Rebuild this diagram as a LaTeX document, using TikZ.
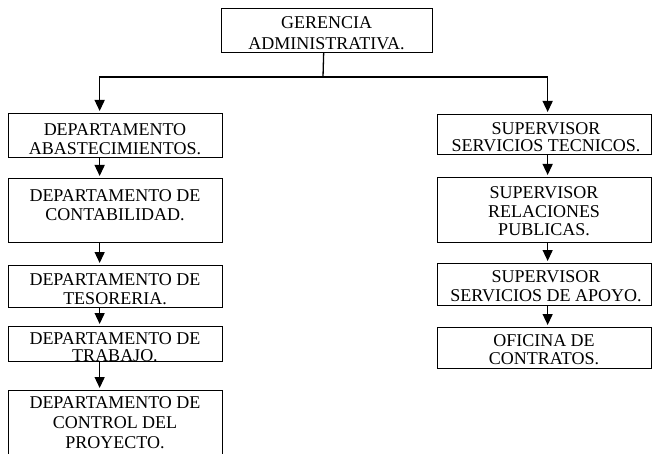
\documentclass[tikz,border=0pt]{standalone}
\usepackage{fontspec}
\setmainfont{Liberation Serif}
\usetikzlibrary{arrows.meta}

\begin{document}
\begin{tikzpicture}[x=1pt,y=-1pt,line cap=rect,
  caja/.style={draw=custcol_0_0_0, line width=1.3pt, inner sep=0, anchor=north west},
  texto/.style={inner sep=0, outer sep=0, align=center, anchor=north, custcol_0_0_0,
    font=\fontsize{18pt}{19pt}\selectfont},
  linea/.style={line width=1.3pt, custcol_0_0_0},
  flecha/.style={linea, -{Triangle[length=11pt,width=10pt]}, shorten >=2pt}]
\useasboundingbox (0,0) rectangle (652,454);
\definecolor{custcol_0_0_0}{RGB}{0, 0, 0}
\node[caja, minimum width=211, minimum height=44] (geren) at (221,8) {};
\node[caja, minimum width=214, minimum height=44] (abast) at (8,113) {};
\node[caja, minimum width=214, minimum height=64] (conta) at (8,178) {};
\node[caja, minimum width=214, minimum height=42] (tesor) at (8,265) {};
\node[caja, minimum width=214, minimum height=35] (traba) at (8,326) {};
\node[caja, minimum width=214, minimum height=80] (contr) at (8,390) {};
\node[caja, minimum width=214, minimum height=40] (sertec) at (437,114) {};
\node[caja, minimum width=214, minimum height=65] (relpub) at (437,177) {};
\node[caja, minimum width=214, minimum height=42] (serapo) at (437,263) {};
\node[caja, minimum width=214, minimum height=41] (ofcon) at (437,327) {};
\node[texto, font=\fontsize{18pt}{21pt}\selectfont] (geren-t) at (326.5,17) {GERENCIA\\ADMINISTRATIVA.};
\node[texto] (abast-t) at (115,124) {DEPARTAMENTO\\ABASTECIMIENTOS.};
\node[texto] (conta-t) at (115,190) {DEPARTAMENTO DE\\CONTABILIDAD.};
\node[texto] (tesor-t) at (115,274) {DEPARTAMENTO DE\\TESORERIA.};
\node[texto, font=\fontsize{18pt}{17pt}\selectfont] (traba-t) at (115,333) {DEPARTAMENTO DE\\TRABAJO.};
\node[texto, font=\fontsize{18pt}{20pt}\selectfont] (contr-t) at (115,397) {DEPARTAMENTO DE\\CONTROL DEL\\PROYECTO.};
\node[texto, font=\fontsize{18pt}{17pt}\selectfont] (sertec-t) at (546,123) {SUPERVISOR\\SERVICIOS TECNICOS.};
\node[texto, font=\fontsize{18pt}{18.5pt}\selectfont] (relpub-t) at (544,187) {SUPERVISOR\\RELACIONES\\PUBLICAS.};
\node[texto] (serapo-t) at (546,271) {SUPERVISOR\\SERVICIOS DE APOYO.};
\node[texto, font=\fontsize{18pt}{17.5pt}\selectfont] (ofcon-t) at (544,335) {OFICINA DE\\CONTRATOS.};
\coordinate (ramal) at (323,77);
\draw[linea] ([xshift=-3.5]geren.south) -- (ramal);
\draw[flecha] (ramal) -| ([xshift=-16]abast.north);
\draw[flecha] (ramal) -| ([xshift=3]sertec.north);
\draw[flecha] ([xshift=-16]abast.south) -- ([xshift=-16]conta.north);
\draw[flecha] ([xshift=-16]conta.south) -- ([xshift=-16]tesor.north);
\draw[flecha] ([xshift=-16]tesor.south) -- ([xshift=-16]traba.north);
\draw[flecha] ([xshift=-16]traba.south) -- ([xshift=-16]contr.north);
\draw[flecha] ([xshift=3]sertec.south) -- ([xshift=3]relpub.north);
\draw[flecha] ([xshift=3]relpub.south) -- ([xshift=3]serapo.north);
\draw[flecha] ([xshift=3]serapo.south) -- ([xshift=3]ofcon.north);
\end{tikzpicture}
\end{document}
